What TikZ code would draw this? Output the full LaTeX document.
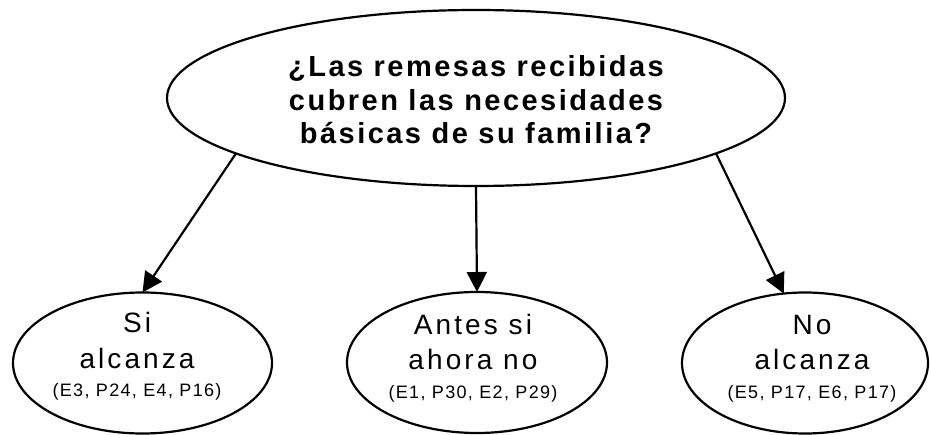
\documentclass[tikz,border=0pt]{standalone}
\usepackage{fontspec}
\setmainfont{Liberation Sans}
\newfontfamily\qfont[LetterSpace=8.5]{Liberation Sans}
\newfontfamily\afont[LetterSpace=11]{Liberation Sans}
\newfontfamily\rfont[LetterSpace=7.5]{Liberation Sans}
\usetikzlibrary{shapes.geometric,arrows.meta}
\begin{document}
\begin{tikzpicture}[x=1pt,y=-1pt,
  oval/.style={ellipse,draw,line width=2.2pt,inner sep=0pt,outer sep=0pt},
  qtext/.style={inner sep=0pt,align=center,font=\qfont\fontsize{29}{33.6}\selectfont\bfseries},
  atext/.style={inner sep=0pt,align=center,font=\afont\fontsize{28}{35.5}\selectfont},
  reftext/.style={font=\rfont\fontsize{18}{20}\selectfont},
  arr/.style={line width=2.2pt,-{Triangle[length=20pt,width=20pt]}}]
\useasboundingbox (0,0) rectangle (930,435);
\node[oval,minimum width=618pt,minimum height=176pt] (T) at (476,98) {};
\node[oval,minimum width=259pt,minimum height=141pt] (L) at (142.5,363) {};
\node[oval,minimum width=260pt,minimum height=141pt] (M) at (477,362.5) {};
\node[oval,minimum width=246pt,minimum height=141pt] (R) at (805,363) {};
\node[qtext] (Ttext) at (476,100) {¿Las remesas recibidas\\cubren las necesidades\\básicas de su familia?};
\node[atext] (Ltext) at (137,356.7) {Si\\alcanza\\[-7pt]{\rfont\fontsize{18}{20}\selectfont (E3, P24, E4, P16)}};
\node[atext] (Mtext) at (473,358.2) {Antes si\\ahora no\\[-7pt]{\rfont\fontsize{18}{20}\selectfont (E1, P30, E2, P29)}};
\node[atext] (Rtext) at (812,358.7) {No\\alcanza\\[-7pt]{\rfont\fontsize{18}{20}\selectfont (E5, P17, E6, P17)}};
\draw[arr] (T.193) -- (L.north);
\draw[arr] (T.south) -- (M.north);
\draw[arr] (T.347) -- (R.107);
\end{tikzpicture}
\end{document}
